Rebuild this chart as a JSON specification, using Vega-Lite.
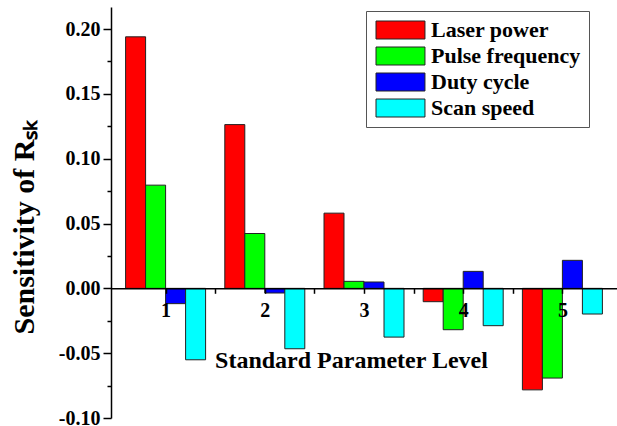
{
  "$schema": "https://vega.github.io/schema/vega-lite/v6.json",
  "width": 506,
  "height": 411,
  "autosize": {"type": "none"},
  "padding": {"left": 111, "top": 7, "right": 0, "bottom": 8},
  "background": "white",
  "config": {"view": {"stroke": null}, "font": "Liberation Serif"},
  "data": {
    "values": [
      {"level": 1, "factor": "Laser power", "value": 0.194},
      {"level": 1, "factor": "Pulse frequency", "value": 0.0796},
      {"level": 1, "factor": "Duty cycle", "value": -0.0118},
      {"level": 1, "factor": "Scan speed", "value": -0.0551},
      {"level": 2, "factor": "Laser power", "value": 0.1263},
      {"level": 2, "factor": "Pulse frequency", "value": 0.0423},
      {"level": 2, "factor": "Duty cycle", "value": -0.0036},
      {"level": 2, "factor": "Scan speed", "value": -0.0466},
      {"level": 3, "factor": "Laser power", "value": 0.058},
      {"level": 3, "factor": "Pulse frequency", "value": 0.0054},
      {"level": 3, "factor": "Duty cycle", "value": 0.0049},
      {"level": 3, "factor": "Scan speed", "value": -0.0376},
      {"level": 4, "factor": "Laser power", "value": -0.0103},
      {"level": 4, "factor": "Pulse frequency", "value": -0.0319},
      {"level": 4, "factor": "Duty cycle", "value": 0.0131},
      {"level": 4, "factor": "Scan speed", "value": -0.0288},
      {"level": 5, "factor": "Laser power", "value": -0.0783},
      {"level": 5, "factor": "Pulse frequency", "value": -0.0692},
      {"level": 5, "factor": "Duty cycle", "value": 0.0216},
      {"level": 5, "factor": "Scan speed", "value": -0.0198}
    ]
  },
  "encoding": {
    "x": {
      "field": "level",
      "type": "quantitative",
      "scale": {"domain": [0.5, 5.5], "nice": false, "zero": false},
      "axis": {
        "title": "Standard Parameter Level",
        "values": [1, 1.5, 2, 2.5, 3, 3.5, 4, 4.5, 5],
        "labelExpr": "datum.value % 1 === 0 ? format(datum.value, 'd') : ''",
        "offset": -129.7,
        "zindex": 1,
        "grid": false,
        "tickSize": 5,
        "tickWidth": 1.5,
        "tickColor": "black",
        "domainColor": "black",
        "domainWidth": 1.5,
        "labelPadding": 7,
        "labelFont": "Liberation Serif",
        "labelFontSize": 20,
        "labelFontWeight": "bold",
        "labelColor": "black",
        "labelFlush": false,
        "titleFont": "Liberation Serif",
        "titleFontSize": 24,
        "titleFontWeight": "bold",
        "titleColor": "black",
        "titleX": 240,
        "titleY": 79,
        "titleBaseline": "alphabetic",
        "titleAlign": "center"
      }
    },
    "y": {
      "field": "value",
      "type": "quantitative",
      "stack": null,
      "scale": {"domain": [-0.1, 0.217], "nice": false},
      "axis": {
        "title": "Sensitivity of Rₛₖ",
        "values": [-0.1, -0.075, -0.05, -0.025, 0, 0.025, 0.05, 0.075, 0.1, 0.125, 0.15, 0.175, 0.2],
        "labelExpr": "abs(datum.value * 20 - round(datum.value * 20)) < 0.000001 ? replace(format(datum.value, '.2f'), '−', '-') : ''",
        "tickSize": {"condition": {"test": "abs(datum.value * 20 - round(datum.value * 20)) < 0.000001", "value": 8}, "value": 4},
        "grid": false,
        "tickWidth": 1.5,
        "tickColor": "black",
        "domainColor": "black",
        "domainWidth": 1.5,
        "labelPadding": 3,
        "labelFont": "Liberation Serif",
        "labelFontSize": 20,
        "labelFontWeight": "bold",
        "labelColor": "black",
        "labelFlush": false,
        "titleFont": "Liberation Serif",
        "titleFontSize": 30,
        "titleFontWeight": "bold",
        "titleColor": "black",
        "titleAngle": -90,
        "titleX": -87,
        "titleY": 220,
        "titleBaseline": "middle",
        "titleAlign": "center"
      }
    },
    "color": {
      "field": "factor",
      "type": "nominal",
      "scale": {
        "domain": ["Laser power", "Pulse frequency", "Duty cycle", "Scan speed"],
        "range": ["#ff0000", "#00ff00", "#0000ff", "#00ffff"]
      },
      "legend": {
        "title": null,
        "orient": "none",
        "legendX": 255,
        "legendY": 4,
        "symbolType": "M-1,-1H4.44V1H-1Z",
        "symbolSize": 324,
        "symbolStrokeColor": "#222222",
        "symbolStrokeWidth": 1,
        "symbolOpacity": 1,
        "labelFont": "Liberation Serif",
        "labelFontSize": 22,
        "labelFontWeight": "bold",
        "labelColor": "black",
        "labelOffset": 35,
        "rowPadding": 4,
        "padding": 8,
        "fillColor": "white",
        "strokeColor": "#555555"
      }
    }
  },
  "layer": [
    {
      "transform": [{"filter": "datum.factor === 'Laser power'"}],
      "mark": {"type": "bar", "orient": "vertical", "width": 20, "xOffset": -30, "stroke": "#222222", "strokeWidth": 1}
    },
    {
      "transform": [{"filter": "datum.factor === 'Pulse frequency'"}],
      "mark": {"type": "bar", "orient": "vertical", "width": 20, "xOffset": -10, "stroke": "#222222", "strokeWidth": 1}
    },
    {
      "transform": [{"filter": "datum.factor === 'Duty cycle'"}],
      "mark": {"type": "bar", "orient": "vertical", "width": 20, "xOffset": 10, "stroke": "#222222", "strokeWidth": 1}
    },
    {
      "transform": [{"filter": "datum.factor === 'Scan speed'"}],
      "mark": {"type": "bar", "orient": "vertical", "width": 20, "xOffset": 30, "stroke": "#222222", "strokeWidth": 1}
    }
  ]
}
